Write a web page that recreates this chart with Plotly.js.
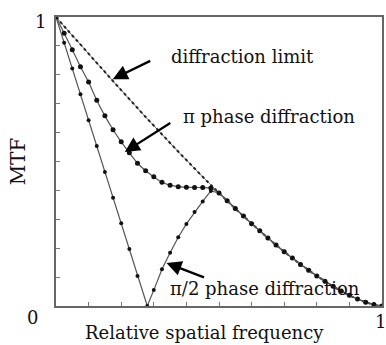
<!DOCTYPE html>
<html>
<head>
<meta charset="utf-8">
<script src="https://cdn.plot.ly/plotly-3.0.1.min.js"></script>
<style>html,body{margin:0;padding:0;background:#fff;}#chart{width:386px;height:345px;}</style>
</head>
<body>
<div id="chart"></div>
<script>
// Relative spatial frequency samples (shared grid)
const freq = [0,0.025,0.05,0.075,0.1,0.125,0.15,0.175,0.2,0.225,0.25,0.275,0.3,0.325,0.35,0.375,0.4,0.425,0.45,0.475,
              0.5,0.525,0.55,0.575,0.6,0.625,0.65,0.675,0.7,0.725,0.75,0.775,0.8,0.825,0.85,0.875,0.9,0.925,0.95,0.975,1];
// Diffraction limit MTF
const mtfLimit = [1.000,0.968,0.936,0.905,0.873,0.841,0.810,0.778,0.747,0.716,0.685,0.654,0.624,0.594,0.564,0.534,0.505,0.476,0.447,0.419,
                  0.391,0.364,0.337,0.311,0.285,0.260,0.235,0.211,0.188,0.166,0.144,0.124,0.104,0.086,0.068,0.052,0.037,0.024,0.013,0.005,0.000];
// pi phase diffraction (before merging with the limit curve)
const piFreq = [0,0.025,0.05,0.075,0.1,0.125,0.15,0.175,0.2,0.225,0.25,0.275,0.3,0.325,0.35,0.375,0.4,0.425,0.45,0.475];
const piMtf  = [1.000,0.944,0.887,0.828,0.775,0.712,0.658,0.610,0.568,0.530,0.494,0.468,0.447,0.428,0.418,0.413,0.411,0.410,0.410,0.408];
// pi/2 phase diffraction (before merging with the limit curve)
const halfPiFreq = [0,0.025,0.05,0.075,0.1,0.125,0.15,0.175,0.2,0.225,0.25,0.28,0.3,0.325,0.35,0.375,0.4,0.425,0.45,0.475];
const halfPiMtf  = [1.000,0.911,0.822,0.733,0.643,0.554,0.464,0.375,0.286,0.197,0.104,0.000,0.055,0.127,0.184,0.238,0.284,0.325,0.362,0.398];
// Ticks (labels drawn only at the ends)
const tickVals = [0,0.1,0.2,0.3,0.4,0.5,0.6,0.7,0.8,0.9,1];
const endLabels = {origin: '0', xEnd: '1', yEnd: '1'};
const xTitle = 'Relative spatial frequency';
const yTitle = 'MTF';

const tailFreq = freq.slice(20);
const tailMtf = mtfLimit.slice(20);

const serif = 'DejaVu Serif, serif';
const black = '#111';

const traces = [
  {x: freq, y: mtfLimit, mode: 'lines', line: {color: '#777', width: 1, shape: 'spline'}, hoverinfo: 'skip', showlegend: false},
  {x: freq, y: mtfLimit, mode: 'lines', line: {color: '#222', width: 2, dash: 'dot', shape: 'spline'}, name: 'diffraction limit', showlegend: false},
  {x: piFreq.concat(tailFreq), y: piMtf.concat(tailMtf), mode: 'lines+markers',
   line: {color: '#555', width: 1.2, shape: 'spline', smoothing: 0.6}, marker: {size: 5, color: black}, name: 'π phase diffraction', showlegend: false},
  {x: halfPiFreq.concat(tailFreq), y: halfPiMtf.concat(tailMtf), mode: 'lines+markers',
   line: {color: '#555', width: 1.2}, marker: {size: 4, color: black}, name: 'π/2 phase diffraction', showlegend: false}
];

const arrowStyle = {showarrow: true, arrowhead: 2, arrowsize: 1.3, arrowwidth: 2.3, arrowcolor: '#000', text: '', standoff: 0, xref: 'x', yref: 'y'};
const labelFont = {family: serif, size: 18, color: black};
const tickFont = {family: serif, size: 18, color: black};

const layout = {
  width: 386, height: 345,
  margin: {l: 56, r: 4, t: 17, b: 39},
  paper_bgcolor: '#fff', plot_bgcolor: '#fff',
  font: {family: serif, size: 16, color: black},
  xaxis: {range: [0, 1], tickmode: 'array', tickvals: tickVals, showticklabels: false,
          ticks: 'inside', ticklen: 4, tickwidth: 1, tickcolor: '#777',
          showline: true, linecolor: '#666', linewidth: 1.6, mirror: true,
          showgrid: false, zeroline: false},
  yaxis: {range: [0, 1], tickmode: 'array', tickvals: tickVals, showticklabels: false,
          ticks: 'inside', ticklen: 4, tickwidth: 1, tickcolor: '#777',
          showline: true, linecolor: '#666', linewidth: 1.6, mirror: true,
          showgrid: false, zeroline: false,
          title: {text: yTitle, font: {family: serif, size: 20, color: black}, standoff: 23}},
  annotations: [
    {text: xTitle, xref: 'paper', yref: 'paper', x: 0.457, y: -0.093, xanchor: 'center', yanchor: 'middle', showarrow: false, font: labelFont},
    {text: endLabels.origin, xref: 'paper', yref: 'paper', x: -0.072, y: -0.04, xanchor: 'center', yanchor: 'middle', showarrow: false, font: tickFont},
    {text: endLabels.yEnd, xref: 'paper', yref: 'y', x: -0.049, y: 1, yshift: -4, xanchor: 'center', yanchor: 'middle', showarrow: false, font: tickFont},
    {text: endLabels.xEnd, xref: 'x', yref: 'paper', x: 1, xshift: -2, y: -0.055, xanchor: 'center', yanchor: 'middle', showarrow: false, font: tickFont},
    {text: 'diffraction limit', x: 0.572, y: 0.865, xanchor: 'center', yanchor: 'middle', showarrow: false, font: labelFont},
    {text: 'π phase diffraction', x: 0.652, y: 0.654, xanchor: 'center', yanchor: 'middle', showarrow: false, font: labelFont},
    {text: 'π/2 phase diffraction', x: 0.641, y: 0.059, xanchor: 'center', yanchor: 'middle', showarrow: false, font: labelFont},
    Object.assign({x: 0.174, y: 0.785, ax: 39, ay: -19}, arrowStyle),
    Object.assign({x: 0.211, y: 0.533, ax: 47, ay: -30}, arrowStyle),
    Object.assign({x: 0.339, y: 0.149, ax: 39, ay: 15}, arrowStyle)
  ]
};

Plotly.newPlot('chart', traces, layout, {displayModeBar: false, staticPlot: true});
</script>
</body>
</html>
